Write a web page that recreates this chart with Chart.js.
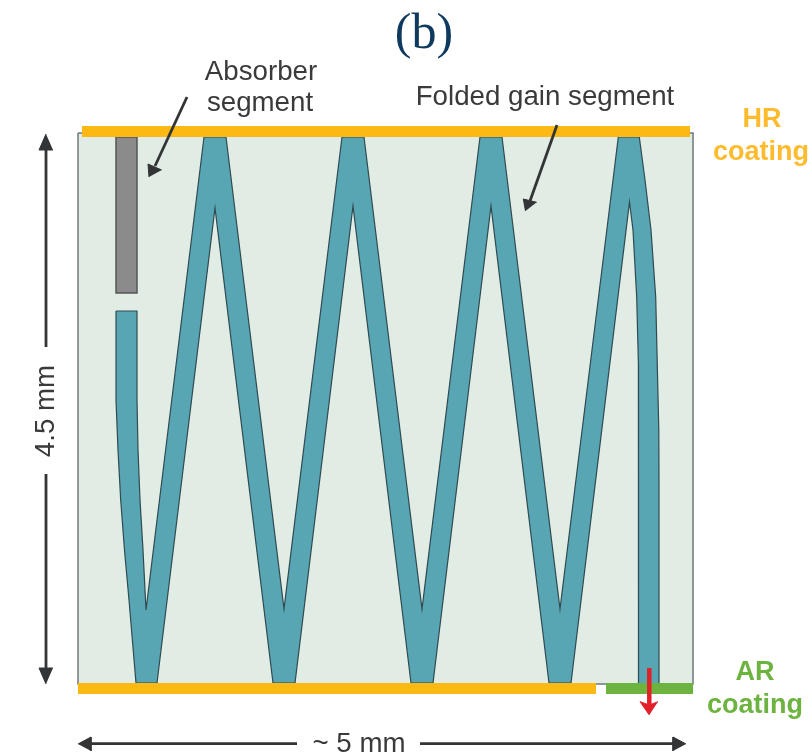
<!DOCTYPE html>
<html>
<head>
<meta charset="utf-8">
<title>(b)</title>
<script src="https://cdn.jsdelivr.net/npm/chart.js@4/dist/chart.umd.min.js"></script>
<style>
  html, body { margin: 0; padding: 0; background: #fff; }
  canvas { display: block; }
</style>
</head>
<body>
<canvas id="chart" width="812" height="756"></canvas>
<script>
var chipX = [78, 693, 693, 78, 78];
var chipY = [133, 133, 684, 684, 133];

// folded waveguide outline, once round
var guideX = [116, 116, 118, 120.7, 124.5, 129, 136, 157, 215, 273, 295, 353, 411, 433, 491, 549, 571, 629.5, 633, 636.7, 638.4, 638.5, 638.5, 659, 659, 658.8, 655.7, 651, 645, 639.3, 618.3, 560, 502, 480, 422, 364, 342, 284, 226, 204, 146, 143, 140, 138, 137, 137, 116];
var guideY = [311, 400, 450, 500, 550, 600, 683, 683, 208, 683, 683, 206, 683, 683, 206, 683, 683, 202, 230, 297, 363, 430, 684, 684, 480, 430, 297, 230, 180, 137, 137, 609, 137, 137, 609, 137, 137, 609, 137, 137, 610, 550, 500, 450, 400, 311, 311];

var absorberX = [116, 137, 137, 116, 116];
var absorberY = [137, 137, 293, 293, 137];

var hrCoatingX = [82, 690];
var hrCoatingY = [131.5, 131.5];
var arCoatingLeftX = [78, 596];
var arCoatingRightX = [606, 693];
var arCoatingY = [688.5, 688.5];

var absorberArrowX = [187, 155];
var absorberArrowY = [97, 166];
var absorberHeadX = [149, 148, 161.7];
var absorberHeadY = [177, 164, 170];
var foldedArrowX = [557, 530];
var foldedArrowY = [125, 201];
var foldedHeadX = [525.5, 523.3, 536.7];
var foldedHeadY = [211, 199, 202.3];

var heightArrowX = [46, 46];
var heightArrowTopY = [140, 347];
var heightArrowBottomY = [474, 678];
var heightHeadTopX = [46, 39, 53];
var heightHeadTopY = [134, 150, 150];
var heightHeadBottomX = [46, 39, 53];
var heightHeadBottomY = [684, 668, 668];

var widthArrowLeftX = [85, 297];
var widthArrowRightX = [420, 680];
var widthArrowY = [743.7, 743.7];
var widthHeadLeftX = [78, 91, 91];
var widthHeadLeftY = [744, 737, 751];
var widthHeadRightX = [686, 673, 673];
var widthHeadRightY = [744, 737, 751];

var outputArrowX = [649.3, 649.3];
var outputArrowY = [668, 705];
var outputHeadX = [649.3, 640, 649.3, 658];
var outputHeadY = [715, 701.7, 705, 701.7];

var labelTexts = ['(b)', 'Absorber', 'segment', 'Folded gain segment', 'HR', 'coating', 'AR', 'coating', '~ 5 mm', '4.5 mm'];
var labelX = [424, 261, 260, 545, 762, 761, 755, 755, 359, 46];
var labelY = [35, 72, 103, 97, 120, 153, 673, 706, 744, 411];
var labelFonts = ['50px "Liberation Serif"', '27.7px "Liberation Sans"', '27.7px "Liberation Sans"', '27.7px "Liberation Sans"', 'bold 27px "Liberation Sans"', 'bold 27px "Liberation Sans"', 'bold 27px "Liberation Sans"', 'bold 27px "Liberation Sans"', '27.7px "Liberation Sans"', '27.7px "Liberation Sans"'];
var labelColors = ['#0f3a5f', '#3a3a3c', '#3a3a3c', '#3a3a3c', '#fdbb2d', '#fdbb2d', '#6cb33f', '#6cb33f', '#3a3a3c', '#3a3a3c'];
var labelAngles = [0, 0, 0, 0, 0, 0, 0, 0, 0, -90];

function toPoints(xs, ys) {
  var pts = [];
  for (var i = 0; i < xs.length; i++) {
    pts.push({ x: xs[i], y: ys[i] });
  }
  return pts;
}

// closed filled outline
function shape(xs, ys, fill, stroke, width) {
  return {
    data: toPoints(xs, ys),
    showLine: true,
    fill: 'shape',
    backgroundColor: fill,
    borderColor: stroke,
    borderWidth: width,
    pointRadius: 0,
    tension: 0
  };
}

function bar(xs, ys, color, width) {
  return {
    data: toPoints(xs, ys),
    showLine: true,
    fill: false,
    borderColor: color,
    borderWidth: width,
    borderCapStyle: 'butt',
    pointRadius: 0,
    tension: 0
  };
}

var dark = '#333436';
var red = '#e3202a';

var labelPlugin = {
  id: 'labels',
  afterDatasetsDraw: function (chart) {
    var ctx = chart.ctx;
    for (var i = 0; i < labelTexts.length; i++) {
      ctx.save();
      ctx.translate(chart.scales.x.getPixelForValue(labelX[i]), chart.scales.y.getPixelForValue(labelY[i]));
      ctx.rotate(labelAngles[i] * Math.PI / 180);
      ctx.font = labelFonts[i];
      ctx.fillStyle = labelColors[i];
      ctx.textAlign = 'center';
      ctx.textBaseline = 'middle';
      ctx.fillText(labelTexts[i], 0, 0);
      ctx.restore();
    }
  }
};

// listed bottom to top, chart.js paints the first dataset last
var layers = [
  shape(chipX, chipY, '#e1ece5', '#6f7876', 1.5),
  shape(guideX, guideY, '#58a6b4', '#2f4a50', 1.2),
  shape(absorberX, absorberY, '#8b8b8b', '#555555', 1.5),
  bar(hrCoatingX, hrCoatingY, '#fdb913', 11),
  bar(arCoatingLeftX, arCoatingY, '#fdb913', 11),
  bar(arCoatingRightX, arCoatingY, '#6cb33f', 11),
  bar(absorberArrowX, absorberArrowY, dark, 2.8),
  shape(absorberHeadX, absorberHeadY, dark, dark, 1),
  bar(foldedArrowX, foldedArrowY, dark, 2.8),
  shape(foldedHeadX, foldedHeadY, dark, dark, 1),
  bar(heightArrowX, heightArrowTopY, dark, 2.8),
  bar(heightArrowX, heightArrowBottomY, dark, 2.8),
  shape(heightHeadTopX, heightHeadTopY, dark, dark, 1),
  shape(heightHeadBottomX, heightHeadBottomY, dark, dark, 1),
  bar(widthArrowLeftX, widthArrowY, dark, 2.8),
  bar(widthArrowRightX, widthArrowY, dark, 2.8),
  shape(widthHeadLeftX, widthHeadLeftY, dark, dark, 1),
  shape(widthHeadRightX, widthHeadRightY, dark, dark, 1),
  bar(outputArrowX, outputArrowY, red, 4.5),
  shape(outputHeadX, outputHeadY, red, red, 1)
];

new Chart(document.getElementById('chart'), {
  type: 'scatter',
  data: { datasets: layers.reverse() },
  options: {
    responsive: false,
    animation: false,
    layout: { padding: 0 },
    plugins: {
      legend: { display: false },
      tooltip: { enabled: false },
      title: { display: false }
    },
    scales: {
      x: { type: 'linear', min: 0, max: 812, display: false },
      y: { type: 'linear', min: 0, max: 756, reverse: true, display: false }
    }
  },
  plugins: [labelPlugin]
});
</script>
</body>
</html>
